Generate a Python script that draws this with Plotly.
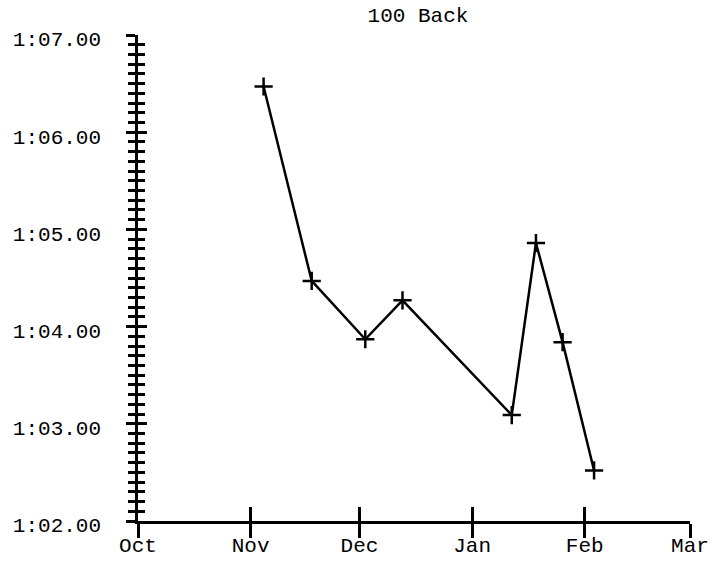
import plotly.graph_objects as go

# Data
swim_dates = ["2023-11-04 14:00", "2023-11-17 20:00", "2023-12-02 14:00", "2023-12-12 20:00",
              "2024-01-11 22:00", "2024-01-18 14:00", "2024-01-25 22:00", "2024-02-03 14:00"]
swim_times = [66.47, 64.47, 63.87, 64.27, 63.09, 64.86, 63.84, 62.52]  # seconds
month_ticks = ["2023-10-01", "2023-11-01", "2023-12-01", "2024-01-01", "2024-02-01", "2024-03-01"]
month_labels = ["Oct", "Nov", "Dec", "Jan", "Feb", "Mar"]
y_ticks = [62, 63, 64, 65, 66, 67]
y_labels = ["1:%02d.00" % (v - 60) for v in y_ticks]

FONT = dict(family="Liberation Mono, Courier New, monospace", size=21, color="black")

fig = go.Figure()
fig.add_trace(go.Scatter(
    x=swim_dates, y=swim_times, mode="lines+markers",
    line=dict(color="black", width=2.5),
    marker=dict(symbol="cross-thin-open", size=13, line=dict(color="black", width=2.5)),
    showlegend=False, cliponaxis=False,
))

xr = ["2023-10-01", "2024-03-01"]
yr = [62, 67]

common_x = dict(type="date", range=xr, tickmode="array", tickvals=month_ticks,
                showgrid=False, zeroline=False, ticklen=14, tickwidth=2.5, tickcolor="black",
                automargin=False)
common_y = dict(range=yr, tickmode="array", tickvals=y_ticks, showgrid=False, zeroline=False,
                ticklen=9, tickwidth=2.5, tickcolor="black", automargin=False)

fig.update_layout(
    width=727, height=561,
    margin=dict(l=138, r=37, t=35, b=40, autoexpand=False),
    paper_bgcolor="white", plot_bgcolor="white",
    font=FONT,
    title=dict(text="100 Back", x=418/727, xanchor="center", y=1 - 15/561, yanchor="middle",
               font=FONT, automargin=False),
    xaxis=dict(**common_x, ticks="outside", ticktext=month_labels, showticklabels=True,
               showline=True, linecolor="black", linewidth=2.5, tickfont=FONT,
               ticklabelstandoff=-11),
    xaxis2=dict(**common_x, ticks="inside", overlaying="x", anchor="y", showticklabels=False,
                showline=False),
    yaxis=dict(**common_y, ticks="outside", ticktext=y_labels, showticklabels=True,
               showline=True, linecolor="black", linewidth=2.5, tickfont=FONT,
               ticklabelstandoff=21, ticklabelshift=4,
               minor=dict(dtick=0.1, ticks="outside", ticklen=7, tickwidth=2.5, tickcolor="black",
                          showgrid=False)),
    yaxis2=dict(**common_y, ticks="inside", overlaying="y", anchor="x", side="left",
                showticklabels=False, showline=False,
                minor=dict(dtick=0.1, ticks="inside", ticklen=7, tickwidth=2.5, tickcolor="black",
                           showgrid=False)),
)
# invisible trace to activate the secondary axes
fig.add_trace(go.Scatter(x=[month_ticks[0]], y=[y_ticks[0]], xaxis="x2", yaxis="y2",
                         mode="markers", marker=dict(opacity=0), showlegend=False,
                         hoverinfo="skip"))

fig.write_html("out.html", config={"displayModeBar": False},
               post_script="document.body.style.margin='0';document.body.style.overflow='hidden';")
